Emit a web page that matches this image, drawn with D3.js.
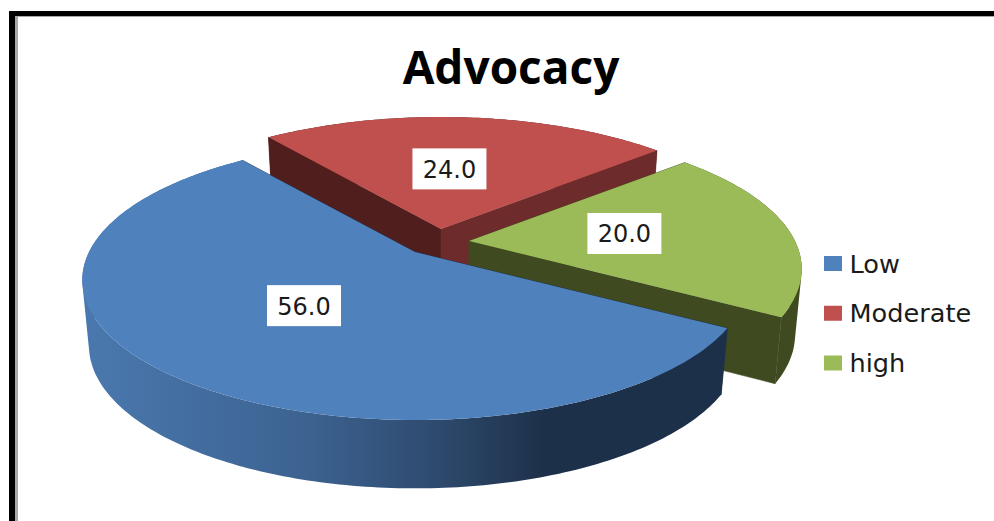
<!DOCTYPE html>
<html>
<head>
<meta charset="utf-8">
<title>Advocacy</title>
<script src="https://cdnjs.cloudflare.com/ajax/libs/d3/7.8.5/d3.min.js"></script>
<style>
  html, body { margin: 0; padding: 0; background: #fff; }
  svg { display: block; }
  .legend-label, .value-label { font-family: "DejaVu Sans", sans-serif; fill: #1a1a1a; }
  .chart-title { font-family: "Open Sans", sans-serif; font-weight: 700; fill: #000; }
</style>
</head>
<body>
<div class="wrap-chart"></div>
<script>
var title = "Advocacy";
var categories = ["Low", "Moderate", "high"];
var values = [56.0, 24.0, 20.0];
var topColors = ["#4f81bd", "#c0504d", "#9bbb59"];

var width = 994,
  height = 521,
  startAngle = 120.6 * Math.PI / 180,
  radiusX = 326,          // disk radius on screen, horizontally
  radiusY = 134.4,        // same, vertically (tilt of the pie)
  perspective = 0.2,      // how much nearer parts of the disk grow
  depth = 65,             // thickness of the pie
  baseScaleX = 0.98,
  baseScaleY = 1.02,
  labelRadius = 0.48;

// where each exploded slice has its tip, the colours of its two cut faces, label nudge
var sliceLayout = [
  { cx: 415, cy: 252, wallA: "#1d3049", wallB: "#1d3049", labelDx: 0.5, labelDy: 1.5 },
  { cx: 441, cy: 229, wallA: "#4f1e1d", wallB: "#6e2b2b", labelDx: -5, labelDy: -1.5 },
  { cx: 469, cy: 241, wallA: "#3f4a20", wallB: "#3f4a20", labelDx: 1, labelDy: -1.5 }
];

var svg = d3.select(".wrap-chart")
  .append("svg")
  .attr("width", width)
  .attr("height", height);

var defs = svg.append("defs");
var blueSide = defs.append("linearGradient")
  .attr("id", "blue-side")
  .attr("gradientUnits", "userSpaceOnUse")
  .attr("x1", 85).attr("x2", 725).attr("y1", 0).attr("y2", 0);
[[0, "#4a78ae"], [0.35, "#3c6290"], [0.55, "#2e4a6e"], [0.72, "#1d3049"], [1, "#1d3049"]].forEach(function (s) {
  blueSide.append("stop").attr("offset", s[0]).attr("stop-color", s[1]);
});

// frame
svg.append("rect").attr("x", 9).attr("y", 11).attr("width", width).attr("height", 5).attr("fill", "#000");
svg.append("rect").attr("x", 9).attr("y", 11).attr("width", 6).attr("height", height).attr("fill", "#000");
svg.append("rect").attr("x", 15).attr("y", 16).attr("width", width).attr("height", 1).attr("fill", "#a8a8a8");
svg.append("rect").attr("x", 15).attr("y", 16).attr("width", 3).attr("height", height).attr("fill", "#a8a8a8");

svg.append("text")
  .attr("class", "chart-title")
  .attr("x", 511)
  .attr("y", 84)
  .attr("text-anchor", "middle")
  .attr("font-size", 46)
  .text(title);

// disk coordinates -> screen, with a simple perspective division
function project(layout, angle, r, base) {
  var u = Math.sin(angle) * r,
    v = -Math.cos(angle) * r,
    w = 1 / (1 - perspective * v);
  return base
    ? [layout.cx + radiusX * u * w * baseScaleX, layout.cy + depth + radiusY * v * w * baseScaleY]
    : [layout.cx + radiusX * u * w, layout.cy + radiusY * v * w];
}

var line = d3.line();

function rim(layout, d, base) {
  var n = Math.ceil((d.endAngle - d.startAngle) * 60);
  var t = d3.scaleLinear().domain([0, n]).range([d.startAngle, d.endAngle]);
  return d3.range(n + 1).map(function (i) {
    return project(layout, t(i), 1, base);
  });
}

// the band folds over itself at the silhouette, so it is one path of small quads
// that all wind the same way: the fold then does not cancel out and no seams show
function bandPath(topRim, baseRim) {
  return topRim.slice(1).map(function (p, i) {
    var quad = [topRim[i], p, baseRim[i + 1], baseRim[i]];
    if (d3.polygonArea(quad) < 0) quad.reverse();
    return line(quad) + "Z";
  }).join("");
}

var pie = d3.pie().sort(null).startAngle(startAngle).endAngle(startAngle + 2 * Math.PI);
var slices = pie(values);

var sliceGroups = svg.selectAll(".slice")
  .data(slices)
  .enter()
  .append("g")
  .attr("class", "slice");

// painted back to front: Moderate, high, Low
sliceGroups.sort(function (a, b) {
  return [2, 0, 1][a.index] - [2, 0, 1][b.index];
});

sliceGroups.each(function (d) {
  var g = d3.select(this),
    layout = sliceLayout[d.index],
    topRim = rim(layout, d, false),
    baseRim = rim(layout, d, true),
    apexTop = [layout.cx, layout.cy],
    apexBase = [layout.cx, layout.cy + depth];

  g.append("path")
    .attr("d", bandPath(topRim, baseRim))
    .attr("fill", d.index === 0 ? "url(#blue-side)" : layout.wallA);

  g.append("path")
    .attr("d", line([apexTop, topRim[0], baseRim[0], apexBase]) + "Z")
    .attr("fill", layout.wallA)
    .attr("stroke", layout.wallA)
    .attr("stroke-width", 0.6);
  g.append("path")
    .attr("d", line([apexTop, topRim[topRim.length - 1], baseRim[baseRim.length - 1], apexBase]) + "Z")
    .attr("fill", layout.wallB)
    .attr("stroke", layout.wallB)
    .attr("stroke-width", 0.6);

  g.append("path")
    .attr("d", line([apexTop].concat(topRim)) + "Z")
    .attr("fill", topColors[d.index]);
});

// value labels
var fmt = d3.format(".1f");
var labels = svg.selectAll(".value")
  .data(slices)
  .enter()
  .append("g")
  .attr("class", "value")
  .attr("transform", function (d) {
    var layout = sliceLayout[d.index],
      p = project(layout, (d.startAngle + d.endAngle) / 2, labelRadius, false);
    return "translate(" + (p[0] + layout.labelDx) + "," + (p[1] + layout.labelDy) + ")";
  });
labels.append("rect")
  .attr("x", -37).attr("y", -20.5)
  .attr("width", 74).attr("height", 41)
  .attr("fill", "#fff");
labels.append("text")
  .attr("class", "value-label")
  .attr("text-anchor", "middle")
  .attr("dy", 9)
  .attr("font-size", 24)
  .text(function (d) { return fmt(d.value); });

// legend
var legendY = d3.scalePoint().domain(categories).range([263.5, 363]);
var legend = svg.selectAll(".legend")
  .data(categories)
  .enter()
  .append("g")
  .attr("class", "legend")
  .attr("transform", function (d) { return "translate(824," + legendY(d) + ")"; });
legend.append("rect")
  .attr("y", -7.5)
  .attr("width", 18)
  .attr("height", 15)
  .attr("fill", function (d, i) { return topColors[i]; });
legend.append("text")
  .attr("class", "legend-label")
  .attr("x", 25.5)
  .attr("dy", 9)
  .attr("font-size", 25.6)
  .text(function (d) { return d; });
</script>
</body>
</html>
